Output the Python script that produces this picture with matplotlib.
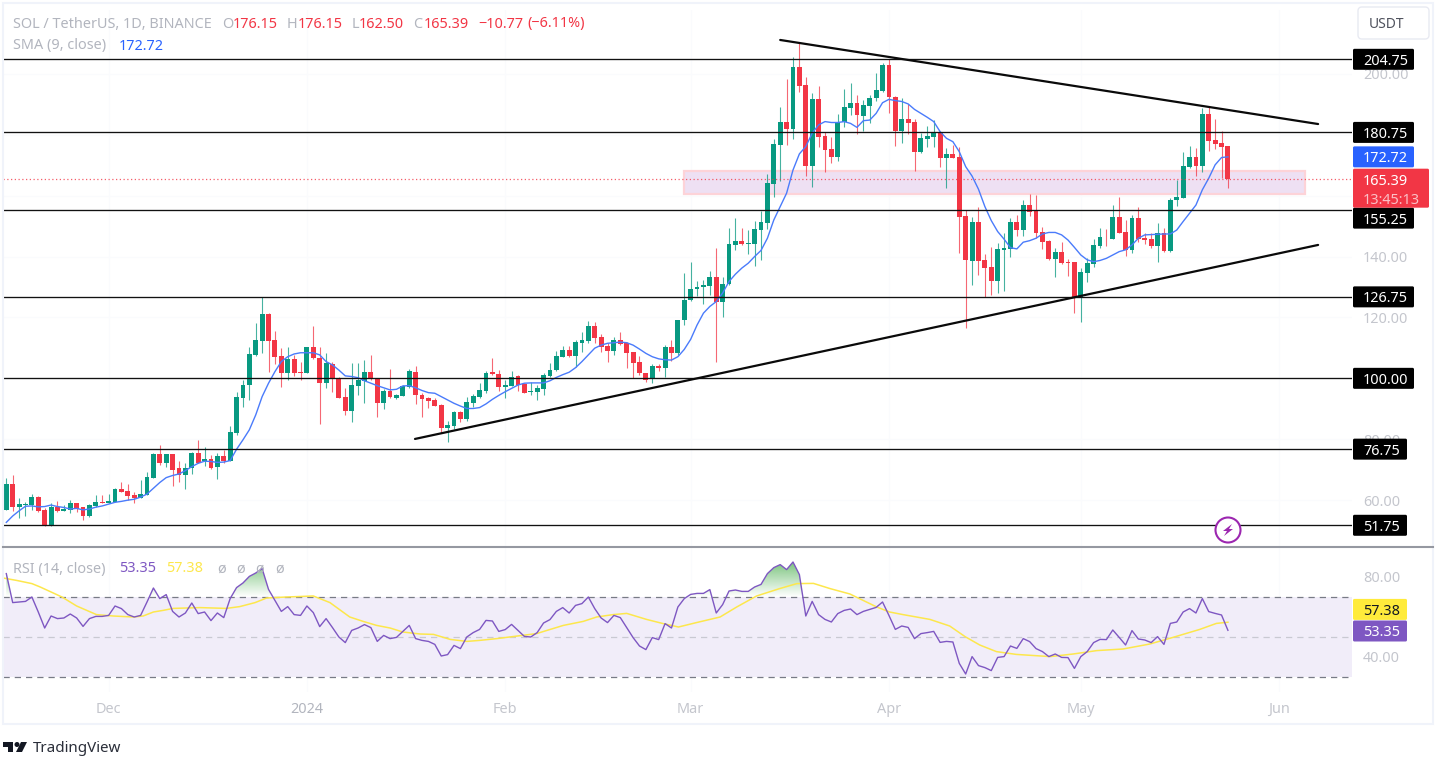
#!/usr/bin/env python
# -*- coding: utf-8
import numpy as np
import matplotlib
matplotlib.use('Agg')
import matplotlib.pyplot as plt
from matplotlib.patches import Circle, FancyBboxPatch, Polygon, Rectangle
from matplotlib.path import Path

plt.rcParams['font.family'] = ['Noto Sans', 'DejaVu Sans']

# Daily candles
opens = [56.8,65.3,57.9,58.4,58.3,61.2,56.8,51.5,57.7,56.5,
         56.9,59.0,57.7,54.8,58.1,59.4,59.2,59.4,63.6,63.0,
         61.7,60.7,61.8,67.4,75.1,72.1,75.1,70.4,68.4,70.5,
         75.6,72.8,73.5,70.8,74.6,72.9,82.0,93.7,97.7,107.7,
         112.3,121.1,112.5,107.2,101.6,106.2,102.0,101.6,110.2,106.8,
         98.4,104.8,100.1,93.9,89.4,97.6,99.2,102.2,100.1,92.0,
         95.9,93.7,94.3,97.3,102.2,94.4,93.7,92.8,91.3,83.7,
         84.4,89.0,86.7,91.9,94.0,95.9,102.0,101.5,97.1,97.6,
         100.7,98.1,95.5,95.6,96.6,100.8,102.7,106.9,109.2,107.3,
         111.6,112.3,117.2,113.5,110.6,109.0,112.5,111.5,108.5,105.2,
         101.6,99.7,104.2,103.3,110.2,108.2,119.0,125.6,129.3,130.0,
         130.3,133.4,125.2,130.9,143.8,145.0,144.2,144.1,148.7,151.1,
         163.8,176.6,184.2,182.0,202.2,196.2,169.7,191.8,179.6,175.3,
         172.7,184.1,188.9,190.5,186.1,189.5,191.9,194.3,202.9,192.5,
         181.2,185.2,184.2,174.3,178.7,179.3,180.9,172.4,173.7,172.7,
         153.3,138.5,151.4,138.7,136.4,131.9,142.2,142.6,151.4,148.7,
         157.0,155.2,148.0,145.0,139.2,141.4,138.3,138.1,126.5,134.6,
         137.6,143.5,146.5,145.9,153.1,148.0,142.2,152.7,146.1,145.8,
         143.5,147.6,141.8,158.4,159.3,169.3,172.6,169.8,186.9,178.1,177.3,176.15]
highs = [67.2,68.3,60.6,59.3,61.9,61.4,57.3,59.0,59.7,58.4,
         59.9,59.0,57.9,58.7,61.7,61.7,62.0,64.0,65.8,65.3,
         62.7,66.6,69.3,75.4,78.1,75.1,75.1,72.7,72.3,75.9,
         79.7,77.4,74.8,75.6,76.5,84.3,95.6,99.5,110.2,118.1,
         126.6,121.3,115.5,109.9,110.2,107.7,105.2,110.2,117.2,110.2,
         108.2,105.5,100.6,96.9,104.9,104.9,106.0,107.7,100.1,96.5,
         103.0,94.8,97.7,103.0,103.9,95.2,94.0,93.7,91.5,85.9,
         89.4,89.4,93.8,94.9,98.4,102.3,106.6,102.7,99.5,102.5,
         101.1,98.1,98.8,97.8,101.6,104.9,109.1,110.6,110.6,112.6,
         115.3,118.7,118.5,114.6,111.5,113.7,115.1,112.0,108.5,107.3,
         101.6,104.7,104.7,111.0,112.6,119.2,134.7,138.1,132.1,132.3,
         135.1,142.7,133.4,149.3,152.8,149.3,148.7,151.5,155.0,167.1,
         178.6,189.2,198.2,205.4,210.5,198.8,193.6,196.0,181.0,179.1,
         186.8,194.9,196.9,193.0,191.4,193.0,200.1,203.4,204.7,192.7,
         192.2,190.1,185.0,180.5,182.9,184.8,181.0,175.5,176.6,176.1,
         155.3,153.0,156.4,140.8,143.0,144.3,147.6,152.6,153.6,158.6,
         160.5,160.1,149.6,145.4,142.9,144.9,139.1,138.3,136.1,139.4,
         145.6,149.4,148.9,157.0,159.4,152.0,153.6,156.2,147.6,147.6,
         150.9,149.4,159.1,165.1,174.3,176.3,175.5,188.7,189.4,185.2,181.1,176.15]
lows = [56.8,56.6,54.3,54.8,56.8,56.2,51.5,51.5,56.2,56.5,
        55.9,56.2,53.5,54.4,57.9,59.0,59.1,59.3,62.7,59.9,
        59.2,60.6,61.7,67.4,71.7,70.8,64.5,65.8,63.7,68.5,
        72.1,71.3,70.3,67.1,72.3,72.7,81.4,90.7,92.9,107.4,
        108.2,102.2,104.7,97.3,99.5,100.9,99.5,101.6,106.5,85.0,
        96.7,95.6,93.4,88.0,85.5,94.5,92.0,99.5,87.4,89.8,
        93.7,93.3,94.2,96.8,91.6,87.4,90.4,90.9,82.2,79.1,
        83.5,85.5,86.1,90.7,93.4,95.3,101.2,95.9,93.4,97.5,
        96.0,95.3,94.4,93.0,94.6,100.3,102.5,106.9,107.1,103.6,
        108.5,111.7,111.7,108.8,105.3,107.7,111.1,103.3,100.1,101.1,
        98.9,98.6,102.4,100.6,105.7,107.7,117.6,125.5,126.9,124.4,
        127.4,105.3,120.3,130.7,142.2,143.8,140.9,136.9,138.9,149.1,
        159.4,164.9,176.6,178.7,193.9,166.4,162.7,175.9,167.9,170.8,
        171.4,182.6,186.4,180.2,181.3,183.7,191.2,194.1,187.2,176.4,
        177.2,180.2,168.1,173.9,175.9,175.9,169.3,162.4,172.2,141.3,
        116.5,130.5,133.9,126.7,127.2,127.9,128.8,140.0,146.8,146.8,
        153.3,146.0,142.5,138.9,133.2,137.5,133.6,121.6,118.6,131.5,
        136.4,142.7,143.3,145.8,147.6,140.3,141.1,144.9,144.1,142.9,
        138.2,141.6,141.6,156.7,159.3,169.0,166.4,167.8,174.8,175.3,165.7,162.5]
closes = [65.3,57.6,58.7,58.7,61.0,56.6,51.5,57.8,56.5,57.2,
          59.0,57.2,54.8,58.4,59.4,59.1,59.7,63.8,62.7,61.4,
          60.7,61.9,67.7,75.1,72.1,75.1,70.0,68.4,70.6,75.6,
          72.3,73.6,70.7,74.6,72.7,82.3,93.9,97.8,107.9,112.5,
          121.1,112.4,107.1,101.6,106.2,101.6,101.6,110.2,106.7,98.4,
          104.9,100.1,93.7,89.4,97.8,99.5,102.2,99.7,92.0,95.9,
          93.8,94.4,97.5,102.3,94.4,93.3,92.7,91.0,83.8,84.6,
          89.0,86.7,92.2,94.2,96.2,101.9,101.4,97.1,97.8,100.6,
          97.9,95.3,95.7,96.8,101.2,102.7,107.2,109.2,107.3,111.9,
          112.5,117.2,113.4,110.2,109.0,112.5,111.3,108.3,104.9,101.6,
          99.6,104.2,103.3,110.2,108.4,119.0,125.8,129.4,130.1,130.6,
          133.3,125.2,131.1,144.0,145.1,144.1,144.5,149.1,151.4,164.0,
          177.0,184.3,182.0,202.2,196.1,169.7,191.8,179.4,175.0,172.7,
          184.3,189.2,190.5,186.3,189.8,192.2,194.6,202.9,192.3,181.2,
          185.2,184.0,174.3,178.9,179.6,180.9,172.4,173.7,172.4,153.1,
          138.7,151.4,138.5,136.1,131.9,142.4,142.7,151.4,148.7,157.0,
          154.7,147.8,144.9,139.1,141.4,137.8,137.8,126.4,134.8,137.8,
          143.7,146.4,146.3,153.1,147.8,142.2,152.7,145.9,145.4,143.5,
          147.6,141.8,158.7,159.7,169.6,172.6,169.6,186.9,178.0,176.9,176.0,165.39]

sma = [52.7,54.8,56.5,58.0,58.1,57.8,57.9,58.4,57.9,57.6,
       57.1,57.3,56.8,57.1,57.7,58.1,58.7,59.3,59.6,60.0,
       60.3,61.0,62.0,63.9,65.8,67.4,68.1,68.6,69.7,71.0,
       72.1,72.8,72.7,72.4,72.5,73.0,76.7,79.8,83.1,88.0,
       94.0,98.4,102.2,105.5,107.1,108.0,108.4,108.4,108.4,107.7,
       105.5,104.4,102.7,100.8,100.6,100.2,99.2,98.4,97.6,96.9,
       96.2,96.4,97.5,97.6,96.9,96.0,95.3,95.1,94.0,92.9,
       91.8,90.9,90.1,90.1,90.4,91.6,93.1,94.4,95.6,96.7,
       97.8,98.4,98.5,98.5,98.5,99.2,100.3,101.2,102.0,103.5,
       105.5,107.7,109.9,110.9,111.5,111.7,111.9,111.7,110.9,109.6,
       108.2,107.1,106.4,106.1,106.0,107.1,109.5,112.8,117.5,121.4,
       123.6,125.2,128.0,131.8,134.2,136.2,137.8,140.0,142.0,146.0,
       152.0,156.4,160.8,168.4,173.7,176.1,180.5,183.2,184.3,184.0,
       184.0,184.3,183.7,182.4,184.6,184.8,187.0,190.5,191.6,191.2,
       190.9,190.1,188.3,187.0,185.7,184.3,181.0,178.8,177.7,174.4,
       169.5,166.4,162.1,156.4,151.8,148.2,145.7,142.9,142.5,144.7,
       145.2,146.0,147.4,147.9,147.9,147.1,145.4,143.0,140.5,138.9,
       138.3,138.7,139.4,140.5,141.6,142.2,143.8,146.0,147.1,147.2,
       147.3,147.4,147.4,148.7,151.5,154.2,156.9,161.9,165.7,170.1,172.5,172.72]

rsi = [81.7,67.2,67.5,67.8,70.0,62.5,54.5,60.5,59.2,59.5,
       61.5,59.5,55.3,59.2,60.3,60.3,60.8,65.5,64.2,61.2,
       60.0,60.8,67.5,74.5,69.2,71.2,62.8,60.0,62.0,67.0,
       61.7,62.5,58.2,62.0,59.7,69.2,74.7,77.0,80.3,82.0,
       84.2,73.8,68.3,62.8,65.2,61.2,60.8,65.5,62.2,55.2,
       59.2,54.7,50.0,47.2,53.3,54.5,56.2,54.7,47.8,50.8,
       49.2,49.8,52.8,55.8,49.2,48.3,47.8,46.3,40.5,41.2,
       45.8,44.2,50.0,52.2,53.8,58.3,58.0,52.8,53.7,56.3,
       53.3,50.3,50.0,52.2,57.0,58.7,62.8,64.7,62.0,65.8,
       66.7,70.0,64.2,59.5,57.2,60.8,59.7,54.7,49.7,45.5,
       43.7,49.7,48.7,56.7,54.5,65.0,69.2,71.3,71.8,71.8,
       73.7,62.0,66.2,73.0,73.5,72.8,72.8,75.0,76.3,81.7,
       84.7,86.2,83.7,87.5,81.2,60.5,67.8,61.2,58.8,57.5,
       61.7,63.3,64.0,61.2,62.8,63.8,64.8,67.5,60.8,53.8,
       55.5,54.8,49.2,51.7,52.2,52.8,47.3,47.8,47.5,36.8,
       31.5,40.2,35.7,34.7,33.2,39.8,40.2,45.5,44.3,49.2,
       47.7,44.2,42.7,40.2,41.5,39.8,39.7,34.3,40.2,42.7,
       47.2,48.8,48.7,53.5,49.8,46.0,53.2,49.0,48.5,47.2,
       50.2,46.3,56.8,57.5,62.5,64.2,62.0,69.2,62.7,61.8,61.0,53.35]

# RSI moving average, read at the bends only
rsi_ma_days = [-0.5,1.6,4,5.3,6.8,8.7,11,14.1,16.7,19.9,21.4,23,24.5,26.1,30.3,34.4,36.5,38.9,40.7,43.8,48,50.6,
               53.7,55.8,57.9,60,62,64.7,66.8,69.4,72,74,76.7,82.9,87.1,90.2,92.3,94.9,97,100.1,102.7,105.1,107.9,
               111.6,114.2,117.3,120.9,123.6,126.2,128.8,131.9,136.1,138.1,140.2,144.4,147.5,149.9,152.2,154.8,
               157.9,163.2,166.8,170.5,174.6,178.8,182.4,186.6,189.2,191]
rsi_ma = [79.5,78.3,76.7,75.0,72.8,70.0,65.5,61.2,60.5,60.0,60.5,62.5,63.3,64.3,64.7,64.3,65.2,67.2,69.5,70.0,70.5,67.2,
          60.0,57.8,55.8,54.5,52.5,51.5,51.3,48.8,47.8,48.3,49.2,51.7,55.8,57.8,60.0,61.2,61.8,58.8,56.7,55.0,57.2,
          60.0,65.0,70.5,74.2,76.7,76.8,74.2,71.5,65.0,62.5,61.2,58.8,55.5,50.2,46.0,42.7,
          41.3,40.2,41.5,43.2,44.0,46.5,49.8,53.8,56.8,57.38]

levels = [204.75, 180.75, 155.25, 126.75, 100.00, 76.75, 51.75]
level_labels = ['204.75', '180.75', '155.25', '126.75', '100.00', '76.75', '51.75']
level_label_prices = [204.75, 180.75, 152.6, 126.75, 100.00, 76.75, 51.75]
last_price = 165.39
last_sma = 172.72
zone_low, zone_high = 160.5, 168.2
zone_days = [106, 203]
upper_trend_days = [121, 205.1]
upper_trend_prices = [211.1, 183.5]
lower_trend_days = [63.9, 205.1]
lower_trend_prices = [80.1, 143.8]
grid_prices = [60, 80, 100, 120, 140, 160, 180, 200]
# the others sit behind the price tags in the reference
price_ticks = [60, 80, 120, 140, 200]
rsi_ticks = [40, 80]
month_days = [16, 47, 78, 107, 138, 168, 199]
month_labels = ['Dec', '2024', 'Feb', 'Mar', 'Apr', 'May', 'Jun']

UP = '#089981'
DOWN = '#f23645'
GREY = '#b2b5be'
BLUE = '#2962ff'
PURPLE = '#7e57c2'
YELLOW = '#ffeb3b'
W, H = 1436, 757


def px_axes(left, top, right, bottom, **kw):
    return fig.add_axes([left / W, (H - bottom) / H, (right - left) / W, (bottom - top) / H], **kw)


def price_tag(axis, value, label, colour, text_colour='white'):
    # Tag on the price scale, height follows the axis scale of that pane
    y = H - axis.transData.transform((0, value))[1]
    width = 61 if len(label) == 6 else 54
    page.add_patch(FancyBboxPatch((1353, y - 10.5), width, 21, boxstyle='round,pad=0,rounding_size=1.5',
                                  fc=colour, ec='none', zorder=5))
    page.text(1363, y, label, color=text_colour, fontsize=TICK, va='center_baseline', ha='left', zorder=6)


TICK = 10.4
fig = plt.figure(figsize=(W / 100, H / 100), dpi=100, facecolor='white')

ax = px_axes(3, 10, 1352, 547)
ax_rsi = px_axes(3, 548, 1352, 692)
page = fig.add_axes([0, 0, 1, 1], zorder=20)
page.set_xlim(0, W)
page.set_ylim(H, 0)
page.axis('off')
page.patch.set_alpha(0)

days = np.arange(len(closes))
o = np.array(opens)
h = np.array(highs)
l = np.array(lows)
c = np.array(closes)
colours = np.where(c >= o, UP, DOWN)

# Main pane
for m in month_days:
    ax.axvline(m, color='#fafbfd', lw=0.8, zorder=0)
    ax_rsi.axvline(m, color='#fafbfd', lw=0.8, zorder=0)
for t in grid_prices:
    ax.axhline(t, color='#fafbfd', lw=0.8, zorder=0)

ax.add_patch(Rectangle((zone_days[0], zone_low), zone_days[1] - zone_days[0], zone_high - zone_low,
                       fc='#eee0f3', ec='#fdd3d8', lw=1.6, zorder=1))
ax.vlines(days, l, h, colors=colours, lw=0.8, alpha=0.75, zorder=2)
ax.bar(days, np.abs(c - o), bottom=np.minimum(o, c), width=0.76, color=colours, lw=0, zorder=3)
ax.plot(days, sma, color='#4a7bfb', lw=1.0, zorder=4)
ax.axhline(last_price, color=DOWN, lw=0.9, ls=(0, (1, 2)), alpha=0.8, zorder=4)
for level in levels:
    ax.axhline(level, color='#111111', lw=0.95, zorder=5)
ax.plot(upper_trend_days, upper_trend_prices, color='#0a0a0a', lw=1.6, zorder=6, solid_capstyle='round')
ax.plot(lower_trend_days, lower_trend_prices, color='#0a0a0a', lw=1.6, zorder=6, solid_capstyle='round')

ax.set_xlim(-0.516, 210.4)
ax.set_ylim(44.62, 220.94)
ax.set_xticks([])
ax.yaxis.tick_right()
ax.set_yticks(price_ticks)
ax.set_yticklabels(['%.2f' % t for t in price_ticks])
ax.tick_params(axis='y', length=0, pad=8, labelsize=TICK, labelcolor='#c4c6cd')
for s in ax.spines.values():
    s.set_visible(False)

# RSI pane
rsi_arr = np.array(rsi)
ax_rsi.axhspan(30, 70, color='#f1edf9', lw=0, zorder=1)
shade = ax_rsi.fill_between(days, rsi_arr, 70, where=rsi_arr > 70, interpolate=True, color='none', lw=0)
ramp = np.zeros((64, 2, 4))
ramp[..., :3] = matplotlib.colors.to_rgb('#4caf50')
ramp[..., 3] = np.linspace(0.75, 0, 64)[:, None]
grad = ax_rsi.imshow(ramp, extent=[-0.516, 210.4, 70, 88], aspect='auto', zorder=2, interpolation='bilinear')
grad.set_clip_path(Path.make_compound_path(*shade.get_paths()), ax_rsi.transData)
ax_rsi.axhline(70, color='#787b86', lw=0.9, ls=(0, (5, 4)), zorder=3)
ax_rsi.axhline(50, color='#c9c9d2', lw=0.9, ls=(0, (5, 4)), zorder=3)
ax_rsi.axhline(30, color='#787b86', lw=0.9, ls=(0, (5, 4)), zorder=3)
ax_rsi.plot(rsi_ma_days, rsi_ma, color='#fde74c', lw=1.1, zorder=4)
ax_rsi.plot(days, rsi, color=PURPLE, lw=1.0, zorder=5)
ax_rsi.set_xlim(-0.516, 210.4)
ax_rsi.set_ylim(22.5, 94.5)
ax_rsi.yaxis.tick_right()
ax_rsi.set_yticks(rsi_ticks)
ax_rsi.set_yticklabels(['%.2f' % t for t in rsi_ticks])
ax_rsi.set_xticks(month_days)
ax_rsi.set_xticklabels(month_labels)
ax_rsi.tick_params(axis='y', length=0, pad=8, labelsize=TICK, labelcolor='#c4c6cd')
ax_rsi.tick_params(axis='x', length=0, pad=7, labelsize=TICK, labelcolor='#c4c6cd')
ax_rsi.get_xticklabels()[1].set_fontweight('bold')
ax_rsi.get_xticklabels()[1].set_color('#b2b5be')
for s in ax_rsi.spines.values():
    s.set_visible(False)

# Frame and pane separator
page.add_patch(Rectangle((3, 3), 1430, 721, fc='none', ec='#f0f3fa', lw=1.5))
page.plot([3, 1433], [547, 547], color='#9598a1', lw=1.5)

# Price scale tags
for value, label in zip(level_label_prices, level_labels):
    price_tag(ax, value, label, 'black')
price_tag(ax, last_sma, '172.72', BLUE)
y_last = H - ax.transData.transform((0, last_price))[1]
page.add_patch(FancyBboxPatch((1353, y_last - 10.5), 76, 39, boxstyle='round,pad=0,rounding_size=1.5',
                              fc=DOWN, ec='none', zorder=5))
page.text(1363, y_last, '165.39', color='white', fontsize=TICK, va='center_baseline', zorder=6)
page.text(1363, y_last + 19, '13:45:13', color='#fbc0c6', fontsize=TICK, va='center_baseline', zorder=6)
# these two get pushed apart on the scale, so not at their real values
price_tag(ax_rsi, 63.8, '57.38', YELLOW, '#131722')
price_tag(ax_rsi, 53.0, '53.35', PURPLE)

# Header rows
header = [(13, 'SOL / TetherUS, 1D, BINANCE', GREY), (222, 'O', GREY), (233, '176.15', DOWN), (287, 'H', GREY),
          (298, '176.15', DOWN), (352, 'L', GREY), (359, '162.50', DOWN), (413, 'C', GREY), (424, '165.39', DOWN),
          (478, '\u221210.77', DOWN), (527, '(\u22126.11%)', DOWN)]
for x, text, colour in header:
    page.text(x, 22, text, color=colour, fontsize=TICK, va='center_baseline')
page.text(13, 44, 'SMA (9, close)', color=GREY, fontsize=TICK, va='center_baseline')
page.text(119, 44, '172.72', color=BLUE, fontsize=TICK, va='center_baseline')
page.text(13, 567, 'RSI (14, close)', color=GREY, fontsize=TICK, va='center_baseline')
page.text(119, 567, '53.35', color=PURPLE, fontsize=TICK, va='center_baseline')
page.text(166, 567, '57.38', color='#fde74c', fontsize=TICK, va='center_baseline')
for x in [217, 236, 255, 275]:
    page.text(x, 567, '\u00f8', color=GREY, fontsize=TICK, va='center_baseline')

# USDT button
page.add_patch(FancyBboxPatch((1358, 7), 71, 32, boxstyle='round,pad=0,rounding_size=4', fc='white', ec='#e8eaf2', lw=1))
page.text(1369, 23, 'USDT', color='#50535e', fontsize=TICK - 0.4, va='center_baseline')

# Lightning badge
page.add_patch(Circle((1228, 530), 12.5, fc='white', ec='#9c27b0', lw=1.5, zorder=5))
page.add_patch(Polygon([(1232, 524), (1223, 531), (1227, 531), (1224, 536), (1233, 529), (1229, 529)],
                       fc='#9c27b0', ec='none', zorder=6))

# TradingView logo
page.add_patch(Polygon([(3, 742), (13, 742), (13, 752), (8, 752), (8, 747), (3, 747)], fc='#131722', ec='none'))
page.add_patch(Circle((17, 744.5), 2.5, fc='#131722', ec='none'))
page.add_patch(Polygon([(21, 742), (27, 742), (22, 752), (16, 752)], fc='#131722', ec='none'))
page.text(33, 747, 'TradingView', color='#2a2e39', fontsize=10.9, va='center_baseline')

fig.savefig('out.png', dpi=100, facecolor='white')
